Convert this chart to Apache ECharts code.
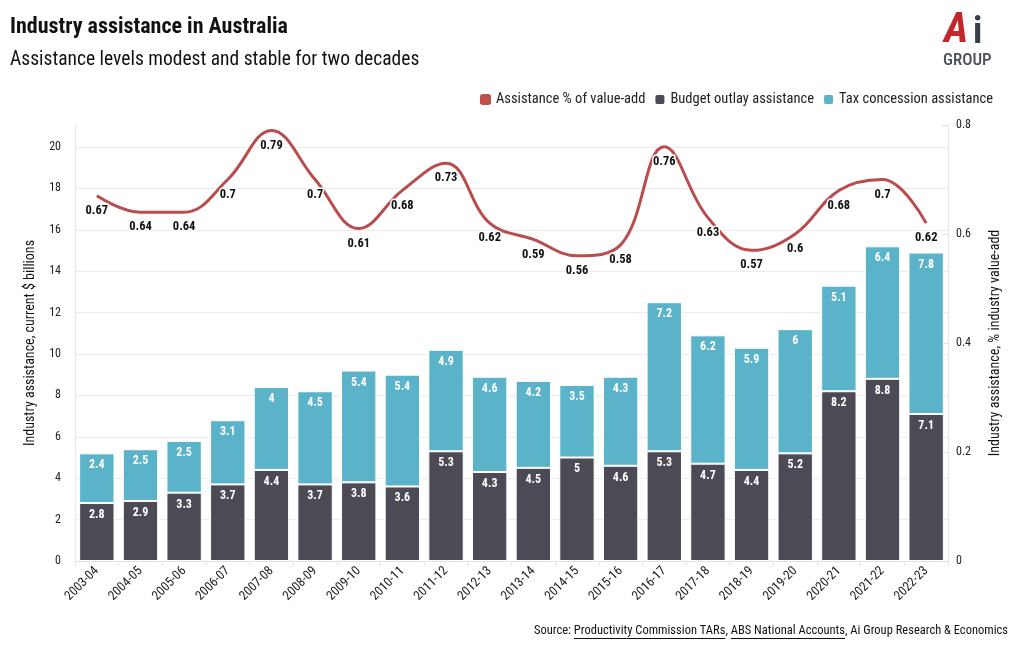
<!DOCTYPE html>
<html><head><meta charset="utf-8">
<script src="https://cdn.jsdelivr.net/npm/echarts@6/dist/echarts.min.js"></script>
<style>html,body{margin:0;padding:0;background:#fff}#c{width:1020px;height:650px}</style>
</head><body><div id="c"></div>
<script>
const categories = ['2003-04','2004-05','2005-06','2006-07','2007-08','2008-09','2009-10','2010-11','2011-12','2012-13','2013-14','2014-15','2015-16','2016-17','2017-18','2018-19','2019-20','2020-21','2021-22','2022-23'];
const budgetOutlay = [2.8,2.9,3.3,3.7,4.4,3.7,3.8,3.6,5.3,4.3,4.5,5,4.6,5.3,4.7,4.4,5.2,8.2,8.8,7.1];
const taxConcession = [2.4,2.5,2.5,3.1,4,4.5,5.4,5.4,4.9,4.6,4.2,3.5,4.3,7.2,6.2,5.9,6,5.1,6.4,7.8];
const pctValueAdd = [0.67,0.64,0.64,0.7,0.79,0.7,0.61,0.68,0.73,0.62,0.59,0.56,0.58,0.76,0.63,0.57,0.6,0.68,0.7,0.62];

const FONT = "'Roboto Condensed','Liberation Sans Narrow','DejaVu Sans Condensed',Roboto,sans-serif";
const chart = echarts.init(document.getElementById('c'), null, {renderer:'canvas'});

function measure(t, size, weight){
  const c = document.createElement('canvas').getContext('2d');
  c.font = (weight||'normal') + ' ' + size + 'px ' + FONT;
  return c.measureText(t).width;
}
const srcParts = [['Source: ',false],['Productivity Commission TARs',true],[', ',false],['ABS National Accounts',true],[', Ai Group Research & Economics',false]];
const srcSize = 12.5;
const srcRight = 1008, srcY = 632;
const totalW = srcParts.reduce((a,p)=>a+measure(p[0],srcSize),0);
let sx = srcRight - totalW;
const srcEls = [];
srcParts.forEach(p=>{
  const w = measure(p[0],srcSize);
  srcEls.push({type:'text', left: sx, top: srcY-8, style:{text:p[0], font: srcSize+'px '+FONT, fill:'#111'}});
  if(p[1]) srcEls.push({type:'line', shape:{x1:sx,y1:srcY+6.5,x2:sx+w,y2:srcY+6.5}, style:{stroke:'#111',lineWidth:1}});
  sx += w;
});

const option = {
  backgroundColor:'#fff',
  textStyle:{fontFamily:FONT},
  animation:false,
  title:[
    {text:'Industry assistance in Australia', left:5, top:11, textStyle:{fontFamily:FONT, fontSize:22, fontWeight:'bold', color:'#111'}},
    {text:'Assistance levels modest and stable for two decades', left:5, top:45, textStyle:{fontFamily:FONT, fontSize:19.5, fontWeight:'normal', color:'#111'}}
  ],
  legend:{
    right:22, top:87, itemWidth:11, itemHeight:11, itemGap:8, icon:'roundRect',
    textStyle:{fontFamily:FONT, fontSize:14.5, color:'#222'},
    data:[
      {name:'Assistance % of value-add', itemStyle:{color:'#c0504d'}},
      {name:'Budget outlay assistance'},
      {name:'Tax concession assistance'}
    ]
  },
  grid:{left:75, right:72, top:125, bottom:89, containLabel:false},
  xAxis:{
    type:'category', data:categories,
    axisLine:{lineStyle:{color:'#e0e0e0'}},
    axisTick:{show:true, length:5, lineStyle:{color:'#e6e6e6'}},
    axisLabel:{rotate:45, fontSize:13, color:'#222', fontFamily:FONT, margin:8}
  },
  yAxis:[
    {type:'value', min:0, max:21.06, interval:2,
     name:'Industry assistance, current $ billions', nameLocation:'middle', nameGap:38, nameRotate:90,
     nameTextStyle:{fontFamily:FONT, fontSize:14, color:'#111'},
     axisLine:{show:true, lineStyle:{color:'#e6e6e6'}},
     axisTick:{show:false},
     axisLabel:{fontSize:12, color:'#222', fontFamily:FONT, showMaxLabel:false, margin:14},
     splitLine:{show:true, showMaxLine:false, lineStyle:{color:'#ebebeb'}}
    },
    {type:'value', min:0, max:0.8, interval:0.2, position:'right',
     name:'Industry assistance, % industry value-add', nameLocation:'middle', nameGap:40, nameRotate:90,
     nameTextStyle:{fontFamily:FONT, fontSize:14, color:'#111'},
     axisLine:{show:true, lineStyle:{color:'#e6e6e6'}},
     axisTick:{show:true, length:6, inside:true, lineStyle:{color:'#e0e0e0'}},
     axisLabel:{fontSize:12, color:'#222', fontFamily:FONT, margin:8, formatter:v=>String(+v.toFixed(1))},
     splitLine:{show:false}
    }
  ],
  series:[
    {name:'Budget outlay assistance', type:'bar', stack:'a', data:budgetOutlay, barCategoryGap:'19%',
     itemStyle:{color:'#4c4b55', borderColor:'#fff', borderWidth:1},
     label:{show:true, position:'insideTop', distance:6, color:'#fff', fontWeight:'bold', fontSize:12, fontFamily:FONT, textBorderWidth:0}
    },
    {name:'Tax concession assistance', type:'bar', stack:'a', data:taxConcession,
     itemStyle:{color:'#5ab3c8', borderColor:'#fff', borderWidth:1},
     label:{show:true, position:'insideTop', distance:6, color:'#fff', fontWeight:'bold', fontSize:12, fontFamily:FONT, textBorderWidth:0}
    },
    {name:'Assistance % of value-add', type:'line', yAxisIndex:1, data:pctValueAdd, smooth:0.4,
     symbol:'circle', symbolSize:1, showSymbol:true, z:5,
     lineStyle:{color:'#b94c4c', width:3},
     itemStyle:{color:'rgba(0,0,0,0)'},
     label:{show:true, position:'bottom', distance:8, color:'#111', fontWeight:'bold', fontSize:12.5, fontFamily:FONT, textBorderColor:'#fff', textBorderWidth:3}
    }
  ],
  graphic:[
    {type:'text', left:944, top:10, style:{text:'A', font:"italic bold 42px "+FONT, fill:'#c1272d'}},
    {type:'text', left:973, top:15, style:{text:'i', font:"bold 37px "+FONT, fill:'#3a3f4a'}},
    {type:'text', left:943, top:52, style:{text:'GROUP', font:"500 17px "+FONT, fill:'#4a4f58'}}
  ].concat(srcEls)
};
chart.setOption(option);
</script></body></html>
